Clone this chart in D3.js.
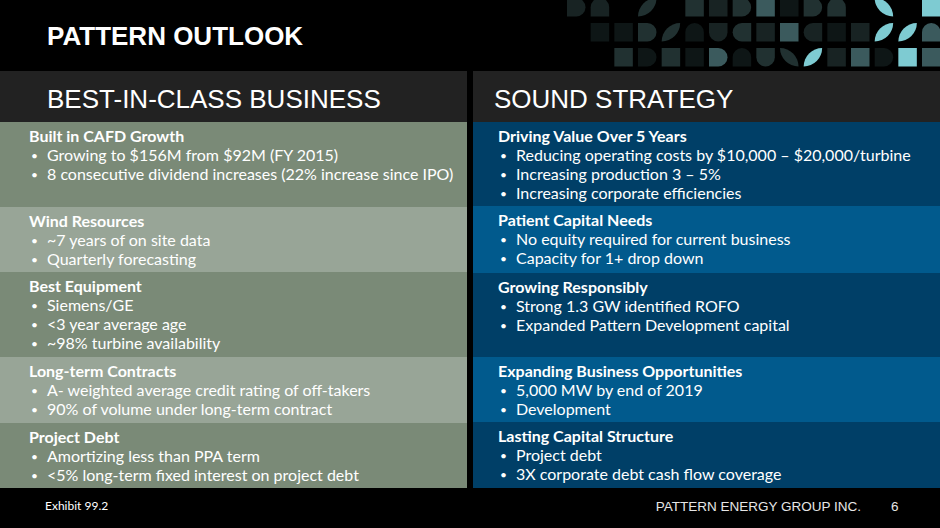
<!DOCTYPE html><html><head><meta charset="UTF-8"><script src="https://d3js.org/d3.v7.min.js"></script><style>
  html, body { margin: 0; padding: 0; background: #000; }
  svg { display: block; }
  .body-text { font-family: Lato, "Noto Sans", sans-serif; fill: #fff; }
  .head-text { font-family: "Liberation Sans", Arial, sans-serif; fill: #fff; }
</style></head><body><div id="chart"></div><script>
const slideTitle = 'PATTERN OUTLOOK';
const columnTitles = ['BEST-IN-CLASS BUSINESS', 'SOUND STRATEGY'];

const leftTitles = ['Built in CAFD Growth', 'Wind Resources', 'Best Equipment', 'Long-term Contracts', 'Project Debt'];
const leftBullets = [
  ['Growing to $156M from $92M (FY 2015)', '8 consecutive dividend increases (22% increase since IPO)'],
  ['~7 years of on site data', 'Quarterly forecasting'],
  ['Siemens/GE', '<3 year average age', '~98% turbine availability'],
  ['A- weighted average credit rating of off-takers', '90% of volume under long-term contract'],
  ['Amortizing less than PPA term', '<5% long-term fixed interest on project debt']
];
const rightTitles = ['Driving Value Over 5 Years', 'Patient Capital Needs', 'Growing Responsibly', 'Expanding Business Opportunities', 'Lasting Capital Structure'];
const rightBullets = [
  ['Reducing operating costs by $10,000 \u2013 $20,000/turbine', 'Increasing production 3 \u2013 5%', 'Increasing corporate efficiencies'],
  ['No equity required for current business', 'Capacity for 1+ drop down'],
  ['Strong 1.3 GW identified ROFO', 'Expanded Pattern Development capital'],
  ['5,000 MW by end of 2019', 'Development'],
  ['Project debt', '3X corporate debt cash flow coverage']
];
const footerLeft = 'Exhibit 99.2';
const footerRight = 'PATTERN ENERGY GROUP INC.';
const pageNumber = '6';

// decorative tile strip, top right: shape letter + shade index, "--" = empty
const tileRows = [
  'R1 T1 -- P2 -- S2 S1 R2 S3 S0 R2 T2 -- Q4 -- S4',
  '-- S0 S0 R2 P2 T0 B1 L2 S1 S3 L1 S0 S1 P4 P4 T3',
  '-- -- S2 R0 S2 S0 R3 T0 B2 Q2 P4 S1 S3 R0 S4 S3'
];
const tileShades = ['#0e1616', '#182323', '#213131', '#3b5a5d', '#7ecbd2'];

const W = 940, H = 528;
const svg = d3.select('#chart').append('svg').attr('width', W).attr('height', H);
svg.append('rect').attr('width', W).attr('height', H).attr('fill', '#000');

// tiles
const tileSize = 18.5;
const tx = d3.scaleLinear().domain([0, 15]).range([567, 922]);
const ty = d3.scaleLinear().domain([0, 2]).range([-2, 48]);

function tilePath(x, y, s, r) {
  const [tl, tr, br, bl] = r;
  let p = `M${x + tl},${y}L${x + s - tr},${y}`;
  if (tr) p += `A${tr},${tr} 0 0 1 ${x + s},${y + tr}`;
  p += `L${x + s},${y + s - br}`;
  if (br) p += `A${br},${br} 0 0 1 ${x + s - br},${y + s}`;
  p += `L${x + bl},${y + s}`;
  if (bl) p += `A${bl},${bl} 0 0 1 ${x},${y + s - bl}`;
  p += `L${x},${y + tl}`;
  if (tl) p += `A${tl},${tl} 0 0 1 ${x + tl},${y}`;
  return p + 'Z';
}
const h = tileSize / 2, f = tileSize;
const corners = {
  S: [0, 0, 0, 0], R: [0, h, h, 0], T: [h, h, 0, 0], B: [0, 0, h, h],
  L: [h, 0, 0, h], P: [f, 0, f, 0], Q: [0, f, 0, f]
};
const tiles = [];
tileRows.forEach((row, ri) => row.split(' ').forEach((code, ci) => {
  if (code !== '--') tiles.push({ row: ri, col: ci, shape: code[0], shade: +code[1] });
}));
svg.append('g').selectAll('path').data(tiles).enter().append('path')
  .attr('d', d => tilePath(tx(d.col), ty(d.row), tileSize, corners[d.shape]))
  .attr('fill', d => tileShades[d.shade]);

// slide title
svg.append('text').attr('class', 'head-text')
  .attr('x', 47).attr('y', 45)
  .attr('font-size', 26).attr('font-weight', 'bold')
  .text(slideTitle);

// panels
const panelX = [0, 473];
const panelW = [467, 467];
const rowEdges = [
  [122, 207, 272, 357, 423, 488],
  [122, 206, 273, 357, 422, 488]
];
const fills = [['#7a8a77', '#98a597'], ['#003f67', '#015a8d']];
const sides = [
  { titles: leftTitles, bullets: leftBullets },
  { titles: rightTitles, bullets: rightBullets }
];

sides.forEach((side, si) => {
  const g = svg.append('g').attr('transform', `translate(${panelX[si]},0)`);
  g.append('rect').attr('x', 0).attr('y', 71).attr('width', panelW[si]).attr('height', 51).attr('fill', '#222');
  g.append('text').attr('class', 'head-text')
    .attr('x', si === 0 ? 47 : 21).attr('y', 108)
    .attr('font-size', 26)
    .text(columnTitles[si]);

  const edges = rowEdges[si];
  const rows = g.selectAll('g.row').data(side.titles).enter().append('g').attr('class', 'row');
  rows.append('rect')
    .attr('x', 0).attr('y', (d, i) => edges[i])
    .attr('width', panelW[si]).attr('height', (d, i) => edges[i + 1] - edges[i])
    .attr('fill', (d, i) => fills[si][i % 2]);

  const indent = si === 0 ? 29 : 25;
  rows.append('text').attr('class', 'body-text')
    .attr('x', indent).attr('y', (d, i) => edges[i] + 20)
    .attr('font-size', 16).attr('font-weight', 'bold')
    .text(d => d);

  rows.each(function (d, i) {
    const lines = side.bullets[i];
    const sel = d3.select(this);
    lines.forEach((line, li) => {
      const y = edges[i] + 20 + 19 * (li + 1);
      sel.append('text').attr('class', 'body-text')
        .attr('x', indent + 2).attr('y', y - 1).attr('font-size', 12)
        .text('\u2022');
      sel.append('text').attr('class', 'body-text')
        .attr('x', indent + 18).attr('y', y).attr('font-size', 16)
        .text(line);
    });
  });
});

// footer
svg.append('text').attr('class', 'body-text')
  .attr('x', 45).attr('y', 510).attr('font-size', 12)
  .text(footerLeft);
svg.append('text').attr('class', 'head-text')
  .attr('x', 861).attr('y', 511).attr('font-size', 13.5)
  .attr('text-anchor', 'end').style('fill', '#e6e6e6')
  .text(footerRight);
svg.append('text').attr('class', 'head-text')
  .attr('x', 891).attr('y', 511).attr('font-size', 13.5)
  .style('fill', '#e6e6e6')
  .text(pageNumber);
</script></body></html>
